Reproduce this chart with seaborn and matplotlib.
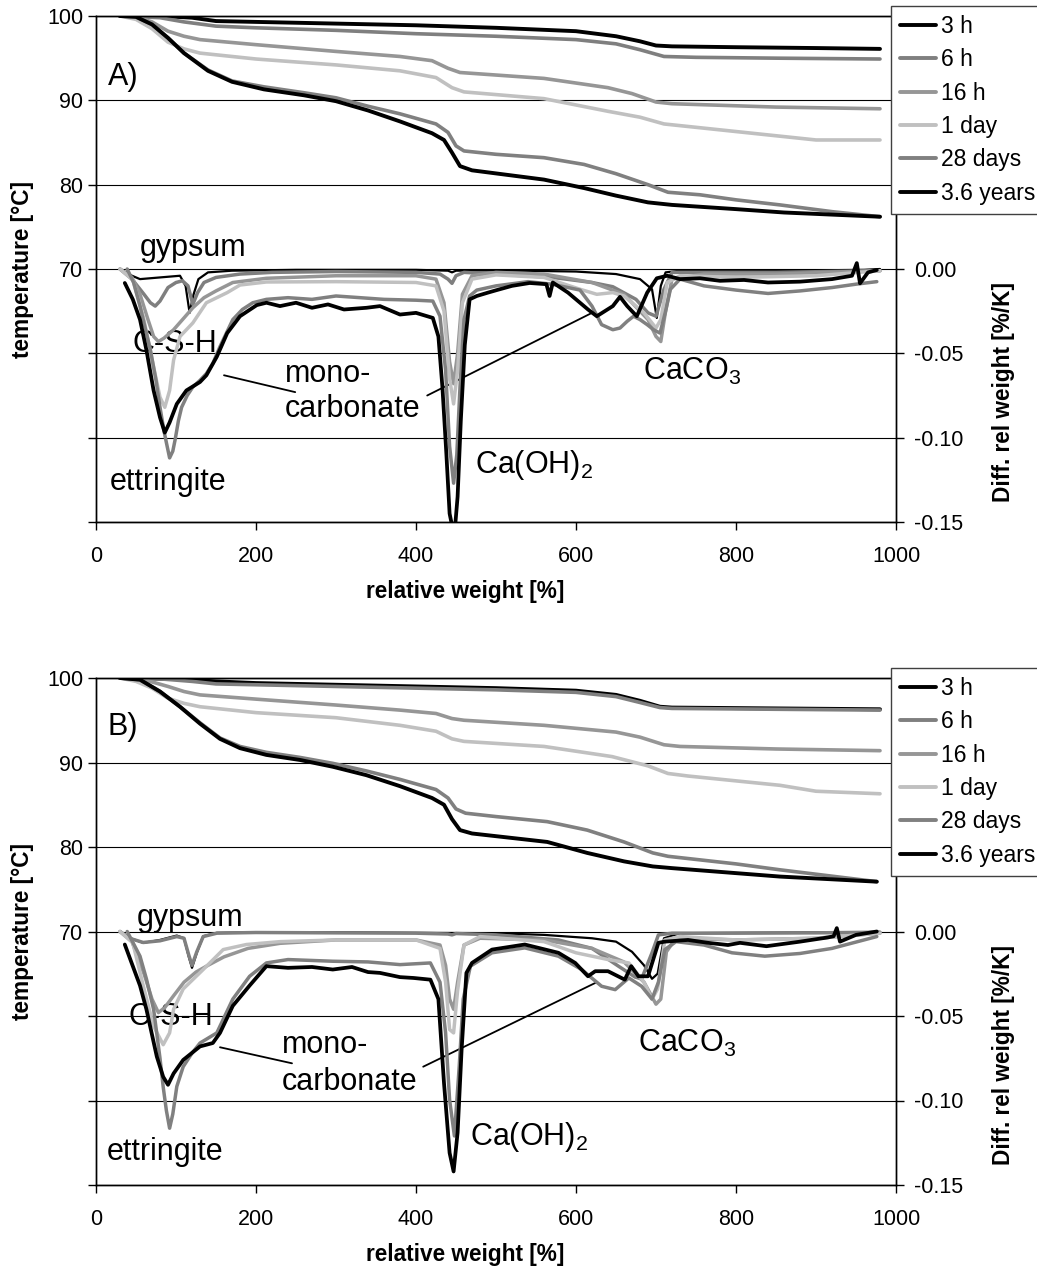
import matplotlib
matplotlib.use('Agg')
import matplotlib.pyplot as plt
import seaborn as sns
import pandas as pd
from matplotlib.lines import Line2D

# ---------------- data ----------------
SERIES = ['3 h', '6 h', '16 h', '1 day', '28 days', '3.6 years']
COLORS = ['#000000', '#7f7f7f', '#969696', '#c0c0c0', '#808080', '#000000']
DTG_LW = [1.6, 2.5, 2.5, 2.5, 2.5, 2.7]
TG_LW = [2.8, 2.6, 2.6, 2.6, 2.6, 2.8]

X_TICKS = [0, 200, 400, 600, 800, 1000]
LEFT_TICKS = [40, 50, 60, 70, 80, 90, 100]
LEFT_LABELS = ['', '', '', '70', '80', '90', '100']
RIGHT_TICKS = [-0.15, -0.10, -0.05, 0.0]
RIGHT_LABELS = ['-0.15', '-0.10', '-0.05', '0.00']

# ---- panel A, TG (left axis) ----
A_TG_3h_T = [30, 80, 120, 150, 200, 300, 400, 500, 600, 650, 680, 700, 720, 800, 900, 980]
A_TG_3h = [100, 100, 99.8, 99.4, 99.3, 99.1, 98.9, 98.6, 98.2, 97.6, 97.0, 96.5, 96.4, 96.3, 96.2, 96.1]
A_TG_6h_T = [30, 80, 110, 150, 200, 300, 400, 500, 600, 650, 680, 710, 750, 850, 980]
A_TG_6h = [100, 99.8, 99.3, 98.8, 98.6, 98.3, 97.9, 97.6, 97.2, 96.7, 96.0, 95.2, 95.1, 95.0, 94.9]
A_TG_16h_T = [30, 50, 70, 90, 110, 130, 200, 300, 380, 420, 440, 455, 500, 560, 640, 670, 700, 720, 850, 980]
A_TG_16h = [100, 99.9, 99.3, 98.2, 97.6, 97.2, 96.6, 95.8, 95.2, 94.7, 93.8, 93.3, 93.0, 92.6, 91.5, 90.8, 89.8, 89.6, 89.2, 89.0]
A_TG_1d_T = [30, 50, 70, 90, 110, 130, 200, 300, 380, 425, 445, 460, 560, 640, 680, 710, 730, 850, 900, 980]
A_TG_1d = [100, 99.6, 98.5, 96.9, 96.1, 95.6, 94.9, 94.2, 93.5, 92.7, 91.5, 91.0, 90.2, 88.7, 88.0, 87.2, 87.0, 85.8, 85.3, 85.3]
A_TG_28d_T = [30, 50, 70, 90, 110, 140, 170, 210, 260, 300, 340, 380, 425, 440, 450, 460, 500, 560, 610, 650, 690, 715, 755, 800, 855, 920, 980]
A_TG_28d = [100, 99.9, 99.0, 97.4, 95.6, 93.6, 92.3, 91.6, 90.9, 90.3, 89.3, 88.4, 87.2, 86.2, 84.6, 84.0, 83.6, 83.2, 82.4, 81.3, 80.0, 79.1, 78.8, 78.2, 77.6, 76.8, 76.2]
A_TG_36y_T = [30, 50, 70, 90, 110, 140, 170, 210, 260, 300, 340, 380, 420, 435, 445, 455, 470, 560, 610, 650, 690, 720, 800, 860, 980]
A_TG_36y = [100, 99.9, 99.0, 97.4, 95.6, 93.5, 92.2, 91.3, 90.6, 89.9, 88.8, 87.5, 86.1, 85.3, 83.8, 82.2, 81.7, 80.6, 79.6, 78.7, 77.9, 77.6, 77.1, 76.7, 76.2]

# ---- panel A, DTG (right axis) ----
A_DTG_3h_T = [30, 45, 55, 80, 105, 112, 117, 122, 128, 140, 170, 250, 400, 440, 445, 450, 500, 600, 650, 680, 695, 701, 706, 712, 730, 800, 900, 960, 980]
A_DTG_3h = [0, -0.004, -0.006, -0.005, -0.004, -0.010, -0.026, -0.015, -0.006, -0.002, -0.001, -0.0005, -0.0005, -0.001, -0.002, -0.001, -0.0008, -0.0015, -0.003, -0.006, -0.012, -0.029, -0.010, -0.002, -0.001, -0.001, -0.0008, -0.0005, 0]
A_DTG_6h_T = [30, 45, 60, 68, 74, 80, 90, 100, 108, 115, 121, 127, 135, 150, 180, 220, 300, 400, 430, 440, 445, 450, 460, 500, 571, 620, 646, 675, 690, 700, 710, 720, 760, 850, 980]
A_DTG_6h = [0, -0.006, -0.015, -0.020, -0.022, -0.019, -0.011, -0.008, -0.007, -0.010, -0.021, -0.014, -0.008, -0.005, -0.003, -0.002, -0.0015, -0.002, -0.003, -0.006, -0.0085, -0.004, -0.002, -0.003, -0.005, -0.008, -0.0105, -0.018, -0.026, -0.028, -0.012, -0.002, -0.002, -0.002, -0.001]
A_DTG_16h_T = [30, 45, 55, 65, 72, 78, 85, 97, 110, 121, 135, 150, 171, 213, 300, 400, 425, 435, 442, 447, 452, 458, 470, 500, 560, 620, 660, 690, 700, 706, 712, 720, 760, 850, 980]
A_DTG_16h = [0, -0.005, -0.015, -0.030, -0.040, -0.043, -0.041, -0.036, -0.029, -0.023, -0.017, -0.013, -0.008, -0.0055, -0.004, -0.004, -0.006, -0.020, -0.055, -0.068, -0.050, -0.015, -0.004, -0.002, -0.003, -0.008, -0.015, -0.030, -0.040, -0.043, -0.025, -0.006, -0.003, -0.003, -0.001]
A_DTG_1d_T = [30, 46, 59, 72, 80, 86, 92, 97, 105, 121, 138, 164, 180, 213, 300, 400, 425, 435, 442, 447, 452, 458, 470, 500, 560, 605, 626, 646, 660, 685, 700, 706, 714, 730, 800, 900, 980]
A_DTG_1d = [0, -0.0065, -0.028, -0.058, -0.076, -0.082, -0.072, -0.054, -0.040, -0.032, -0.020, -0.014, -0.0095, -0.0077, -0.0075, -0.008, -0.010, -0.025, -0.065, -0.080, -0.060, -0.020, -0.006, -0.0035, -0.005, -0.012, -0.015, -0.014, -0.016, -0.026, -0.035, -0.030, -0.008, -0.004, -0.005, -0.004, -0.001]
A_DTG_28d_T = [39, 47, 55, 62, 68, 75, 80, 85, 88, 92, 96, 99, 103, 107, 114, 121, 130, 138, 146, 155, 163, 171, 183, 196, 213, 240, 270, 300, 330, 360, 400, 421, 430, 437, 442, 447, 451, 455, 460, 467, 476, 500, 540, 570, 605, 620, 632, 646, 655, 664, 672, 680, 689, 697, 705, 712, 718, 730, 760, 800, 840, 880, 920, 950, 976]
A_DTG_28d = [0, -0.008, -0.022, -0.036, -0.048, -0.066, -0.082, -0.096, -0.103, -0.112, -0.108, -0.101, -0.090, -0.082, -0.075, -0.070, -0.066, -0.062, -0.056, -0.046, -0.038, -0.030, -0.024, -0.020, -0.018, -0.017, -0.018, -0.016, -0.017, -0.018, -0.0185, -0.019, -0.028, -0.060, -0.105, -0.127, -0.110, -0.070, -0.030, -0.016, -0.0125, -0.010, -0.0075, -0.009, -0.0125, -0.022, -0.033, -0.036, -0.035, -0.031, -0.028, -0.030, -0.033, -0.036, -0.038, -0.025, -0.012, -0.006, -0.010, -0.0125, -0.0145, -0.013, -0.011, -0.009, -0.0075]
A_DTG_36y_T = [36, 46, 55, 63, 72, 80, 86, 92, 101, 113, 130, 138, 151, 164, 180, 201, 213, 230, 250, 270, 290, 310, 338, 355, 380, 400, 421, 428, 433, 438, 442, 445, 449, 452, 456, 461, 467, 476, 490, 501, 520, 542, 563, 567, 571, 590, 605, 615, 626, 636, 646, 655, 664, 676, 689, 701, 714, 730, 755, 780, 810, 840, 880, 920, 945, 951, 955, 965, 976]
A_DTG_36y = [-0.0083, -0.018, -0.030, -0.048, -0.072, -0.088, -0.097, -0.091, -0.080, -0.072, -0.067, -0.063, -0.052, -0.038, -0.028, -0.0214, -0.020, -0.022, -0.020, -0.023, -0.021, -0.024, -0.023, -0.022, -0.027, -0.026, -0.029, -0.040, -0.070, -0.110, -0.145, -0.152, -0.152, -0.135, -0.090, -0.045, -0.018, -0.016, -0.014, -0.0125, -0.010, -0.0083, -0.009, -0.016, -0.008, -0.014, -0.020, -0.024, -0.028, -0.025, -0.022, -0.0165, -0.022, -0.028, -0.014, -0.0055, -0.004, -0.006, -0.0055, -0.007, -0.0065, -0.008, -0.0075, -0.006, -0.004, 0.0035, -0.0085, -0.002, -0.0006]

# ---- panel B, TG (left axis) ----
B_TG_3h_T = [30, 100, 150, 200, 300, 400, 500, 600, 650, 680, 705, 720, 850, 980]
B_TG_3h = [100, 99.9, 99.6, 99.4, 99.2, 99.0, 98.8, 98.5, 98.0, 97.3, 96.6, 96.5, 96.4, 96.3]
B_TG_6h_T = [30, 80, 120, 150, 200, 300, 400, 500, 600, 650, 680, 705, 720, 850, 980]
B_TG_6h = [100, 99.9, 99.6, 99.3, 99.2, 99.0, 98.8, 98.6, 98.3, 97.8, 97.1, 96.5, 96.4, 96.3, 96.2]
B_TG_16h_T = [30, 60, 90, 110, 130, 200, 300, 380, 425, 445, 460, 560, 650, 680, 710, 730, 850, 980]
B_TG_16h = [100, 99.8, 99.0, 98.4, 98.0, 97.5, 96.8, 96.2, 95.8, 95.2, 95.0, 94.4, 93.6, 93.0, 92.1, 91.9, 91.6, 91.4]
B_TG_1d_T = [30, 50, 70, 90, 110, 130, 200, 300, 380, 425, 445, 460, 560, 645, 690, 715, 740, 855, 900, 980]
B_TG_1d = [100, 99.6, 98.8, 97.6, 97.0, 96.6, 95.9, 95.3, 94.4, 93.7, 92.8, 92.5, 91.9, 90.7, 89.6, 88.7, 88.4, 87.3, 86.6, 86.3]
B_TG_28d_T = [30, 55, 80, 105, 130, 155, 180, 213, 255, 296, 338, 380, 425, 440, 450, 462, 500, 564, 614, 660, 696, 715, 800, 855, 976]
B_TG_28d = [100, 99.8, 98.4, 96.6, 94.7, 92.9, 91.9, 91.2, 90.6, 89.9, 89.0, 88.0, 86.8, 85.8, 84.5, 84.0, 83.6, 83.0, 82.0, 80.6, 79.3, 78.9, 78.0, 77.3, 75.9]
B_TG_36y_T = [30, 55, 80, 105, 130, 155, 180, 213, 255, 296, 338, 380, 420, 435, 445, 455, 470, 564, 614, 660, 696, 720, 855, 976]
B_TG_36y = [100, 99.8, 98.4, 96.6, 94.6, 92.8, 91.7, 90.9, 90.3, 89.5, 88.5, 87.2, 85.8, 85.0, 83.3, 82.0, 81.6, 80.6, 79.3, 78.3, 77.7, 77.5, 76.5, 75.9]

# ---- panel B, DTG (right axis) ----
B_DTG_3h_T = [30, 42, 59, 80, 101, 110, 116, 120, 126, 134, 151, 200, 300, 400, 500, 560, 620, 650, 670, 685, 695, 702, 710, 730, 800, 900, 980]
B_DTG_3h = [0, -0.0038, -0.0067, -0.005, -0.0024, -0.004, -0.015, -0.0215, -0.0126, -0.0028, -0.0008, -0.0005, -0.0005, -0.0008, -0.001, -0.002, -0.004, -0.006, -0.012, -0.020, -0.028, -0.025, -0.004, -0.001, -0.0008, -0.0006, -0.0003]
B_DTG_6h_T = [30, 42, 59, 80, 101, 110, 116, 120, 126, 134, 151, 200, 300, 400, 440, 445, 450, 500, 578, 620, 653, 674, 682, 695, 703, 720, 800, 900, 980]
B_DTG_6h = [0, -0.004, -0.0065, -0.0055, -0.003, -0.004, -0.014, -0.020, -0.012, -0.003, -0.001, -0.0006, -0.0008, -0.001, -0.0015, -0.002, -0.0012, -0.002, -0.005, -0.010, -0.0205, -0.027, -0.028, -0.0126, -0.002, -0.001, -0.001, -0.0008, -0.0004]
B_DTG_16h_T = [30, 45, 60, 70, 78, 86, 97, 110, 125, 140, 160, 190, 230, 300, 400, 430, 437, 442, 447, 452, 460, 480, 560, 620, 660, 685, 700, 706, 713, 725, 800, 900, 980]
B_DTG_16h = [0, -0.006, -0.025, -0.040, -0.048, -0.045, -0.038, -0.030, -0.024, -0.020, -0.015, -0.010, -0.007, -0.005, -0.005, -0.008, -0.020, -0.040, -0.046, -0.030, -0.008, -0.004, -0.005, -0.010, -0.018, -0.030, -0.043, -0.040, -0.012, -0.004, -0.005, -0.004, -0.001]
B_DTG_1d_T = [30, 46, 59, 72, 84, 92, 97, 109, 134, 159, 188, 230, 300, 400, 430, 437, 442, 447, 452, 460, 480, 560, 600, 640, 666, 685, 695, 702, 711, 730, 800, 900, 980]
B_DTG_1d = [0, -0.0067, -0.032, -0.056, -0.067, -0.060, -0.046, -0.034, -0.0225, -0.0107, -0.0077, -0.006, -0.005, -0.005, -0.010, -0.030, -0.058, -0.060, -0.035, -0.008, -0.003, -0.006, -0.0126, -0.0166, -0.0186, -0.030, -0.040, -0.034, -0.005, -0.003, -0.005, -0.004, -0.001]
B_DTG_28d_T = [39, 55, 63, 72, 80, 84, 88, 92, 96, 101, 109, 120, 130, 151, 171, 192, 213, 240, 296, 340, 380, 418, 430, 437, 442, 448, 454, 459, 468, 495, 536, 578, 607, 632, 649, 666, 682, 695, 703, 711, 725, 760, 795, 836, 880, 920, 976]
B_DTG_28d = [0, -0.0146, -0.028, -0.046, -0.075, -0.092, -0.106, -0.1164, -0.108, -0.0917, -0.080, -0.072, -0.066, -0.060, -0.040, -0.0265, -0.0186, -0.0166, -0.0176, -0.018, -0.0196, -0.0186, -0.030, -0.060, -0.0996, -0.121, -0.080, -0.040, -0.0205, -0.0126, -0.0097, -0.0146, -0.0225, -0.0324, -0.0344, -0.0275, -0.0324, -0.040, -0.030, -0.0107, -0.006, -0.008, -0.0126, -0.0146, -0.013, -0.010, -0.003]
B_DTG_36y_T = [36, 46, 55, 63, 76, 84, 90, 97, 109, 130, 146, 155, 171, 192, 213, 240, 270, 296, 320, 340, 355, 380, 397, 418, 428, 435, 442, 447, 452, 457, 463, 470, 495, 536, 578, 599, 615, 624, 640, 661, 669, 678, 690, 703, 711, 740, 765, 790, 805, 838, 880, 915, 922, 926, 930, 950, 976]
B_DTG_36y = [-0.0077, -0.0205, -0.032, -0.046, -0.074, -0.086, -0.0907, -0.084, -0.076, -0.068, -0.066, -0.060, -0.044, -0.032, -0.0205, -0.0215, -0.021, -0.0225, -0.021, -0.024, -0.0245, -0.027, -0.0275, -0.0285, -0.040, -0.0897, -0.131, -0.142, -0.119, -0.070, -0.0245, -0.0186, -0.0107, -0.0077, -0.0126, -0.0186, -0.0265, -0.0235, -0.0235, -0.0285, -0.0205, -0.0265, -0.0265, -0.0067, -0.0060, -0.005, -0.0067, -0.008, -0.0067, -0.0087, -0.006, -0.0035, -0.0028, 0.002, -0.006, -0.002, 0]

A_TG = [(A_TG_3h_T, A_TG_3h), (A_TG_6h_T, A_TG_6h), (A_TG_16h_T, A_TG_16h), (A_TG_1d_T, A_TG_1d), (A_TG_28d_T, A_TG_28d), (A_TG_36y_T, A_TG_36y)]
A_DTG = [(A_DTG_3h_T, A_DTG_3h), (A_DTG_6h_T, A_DTG_6h), (A_DTG_16h_T, A_DTG_16h), (A_DTG_1d_T, A_DTG_1d), (A_DTG_28d_T, A_DTG_28d), (A_DTG_36y_T, A_DTG_36y)]
B_TG = [(B_TG_3h_T, B_TG_3h), (B_TG_6h_T, B_TG_6h), (B_TG_16h_T, B_TG_16h), (B_TG_1d_T, B_TG_1d), (B_TG_28d_T, B_TG_28d), (B_TG_36y_T, B_TG_36y)]
B_DTG = [(B_DTG_3h_T, B_DTG_3h), (B_DTG_6h_T, B_DTG_6h), (B_DTG_16h_T, B_DTG_16h), (B_DTG_1d_T, B_DTG_1d), (B_DTG_28d_T, B_DTG_28d), (B_DTG_36y_T, B_DTG_36y)]

# annotation texts (x, y in temperature-axis data units)
A_NOTES = [('A)', 15, 92.8), ('gypsum', 55, 71.6), ('C-S-H', 46, 60.1), ('mono-', 236, 56.6),
           ('carbonate', 236, 52.4), ('ettringite', 17, 43.8), ('Ca(OH)$_2$', 474, 45.8), ('CaCO$_3$', 684, 56.8)]
A_LEADERS = [((160, 57.4), (249, 55.4)), ((414, 55.0), (620, 64.8))]
B_NOTES = [('B)', 15, 94.2), ('gypsum', 51, 70.6), ('C-S-H', 40, 58.9), ('mono-', 232, 55.6),
           ('carbonate', 232, 51.2), ('ettringite', 13, 43.0), ('Ca(OH)$_2$', 467, 44.7), ('CaCO$_3$', 677, 55.7)]
B_LEADERS = [((155, 56.3), (245, 54.4)), ((409, 54.0), (626, 64.0))]

# ---------------- style ----------------
sns.set_theme(style='white')
plt.rcParams['font.family'] = ['Liberation Sans', 'DejaVu Sans']
plt.rcParams['axes.unicode_minus'] = False
plt.rcParams['mathtext.fontset'] = 'custom'
plt.rcParams['mathtext.rm'] = 'Liberation Sans'
plt.rcParams['mathtext.it'] = 'Liberation Sans'
plt.rcParams['mathtext.default'] = 'regular'
plt.rcParams['text.color'] = 'black'
plt.rcParams['axes.labelcolor'] = 'black'
plt.rcParams['xtick.color'] = 'black'
plt.rcParams['ytick.color'] = 'black'

TICK_FS = 15.5
LEG_FS = 16.5
LAB_FS = 16.3
NOTE_FS = 22

fig = plt.figure(figsize=(10.37, 12.70), dpi=100)
W, H = 1037.0, 1270.0


def draw_panel(top_px, bot_px, tg, dtg, notes, leaders, legend_top_px):
    rect = [96 / W, 1 - bot_px / H, 800 / W, (bot_px - top_px) / H]
    ax = fig.add_axes(rect)
    ax2 = ax.twinx()
    for i, (t, v) in enumerate(tg):
        df = pd.DataFrame({'T': t, 'v': v})
        sns.lineplot(data=df, x='T', y='v', ax=ax, color=COLORS[i], lw=TG_LW[i],
                     errorbar=None, legend=False)
    for i, (t, v) in enumerate(dtg):
        df = pd.DataFrame({'T': t, 'v': v})
        sns.lineplot(data=df, x='T', y='v', ax=ax2, color=COLORS[i], lw=DTG_LW[i],
                     errorbar=None, legend=False)
    ax.set_xlim(0, 1000)
    ax.set_ylim(40, 100)
    ax2.set_ylim(-0.15, 0.15)
    ax.set_xticks(X_TICKS)
    ax.set_xticklabels([str(x) for x in X_TICKS])
    ax.set_yticks(LEFT_TICKS)
    ax.set_yticklabels(LEFT_LABELS)
    ax2.set_yticks(RIGHT_TICKS)
    ax2.set_yticklabels(RIGHT_LABELS)
    ax.set_axisbelow(True)
    ax.yaxis.grid(True, color='black', lw=0.8)
    ax.xaxis.grid(False)
    for a in (ax, ax2):
        for s in a.spines.values():
            s.set_color('black')
            s.set_linewidth(1.0)
    ax.tick_params(axis='both', direction='out', length=6, width=1, color='black',
                   labelsize=TICK_FS, labelcolor='black')
    ax.tick_params(axis='x', pad=11, bottom=True)
    ax.tick_params(axis='y', pad=3, left=True)
    ax2.tick_params(axis='y', direction='out', length=6, width=1, color='black',
                    labelsize=TICK_FS, pad=7, right=True, labelcolor='black')
    ax.set_xlabel('relative weight [%]', fontsize=LAB_FS, fontweight='bold', va='center', color='black')
    ax.xaxis.set_label_coords(0.461, -0.138)
    ax.set_ylabel('temperature [°C]', fontsize=LAB_FS, fontweight='bold', va='center', color='black')
    ax.yaxis.set_label_coords(-0.092, 0.5)
    ax2.set_ylabel('Diff. rel weight [%/K]', fontsize=LAB_FS, fontweight='bold', va='center',
                   rotation=90, color='black')
    ax2.yaxis.set_label_coords(1.134, 0.257)
    for txt, x, y in notes:
        ax.text(x, y, txt, fontsize=NOTE_FS, ha='left',
                va='center' if (txt.endswith(')') and len(txt) == 2) else 'baseline',
                color='black', zorder=10)
    for (x0, y0), (x1, y1) in leaders:
        ax.annotate('', xy=(x1, y1), xytext=(x0, y0),
                    arrowprops=dict(arrowstyle='-', lw=1.3, color='black', shrinkA=0, shrinkB=0),
                    zorder=10)
    handles = [Line2D([], [], color=COLORS[i], lw=2.8) for i in range(len(SERIES))]
    leg = fig.legend(handles, SERIES, loc='upper left',
                     bbox_to_anchor=(891 / W, 1 - legend_top_px / H),
                     bbox_transform=fig.transFigure, fontsize=LEG_FS, frameon=True,
                     fancybox=False, shadow=False, framealpha=1, edgecolor='#404040',
                     borderaxespad=0, borderpad=0.4, labelspacing=0.45,
                     handlelength=1.55, handletextpad=0.22, labelcolor='black')
    leg.get_frame().set_linewidth(1.0)
    return ax, ax2


draw_panel(16, 522, A_TG, A_DTG, A_NOTES, A_LEADERS, 6)
draw_panel(678, 1185, B_TG, B_DTG, B_NOTES, B_LEADERS, 668)

fig.savefig('out.png', dpi=100)
